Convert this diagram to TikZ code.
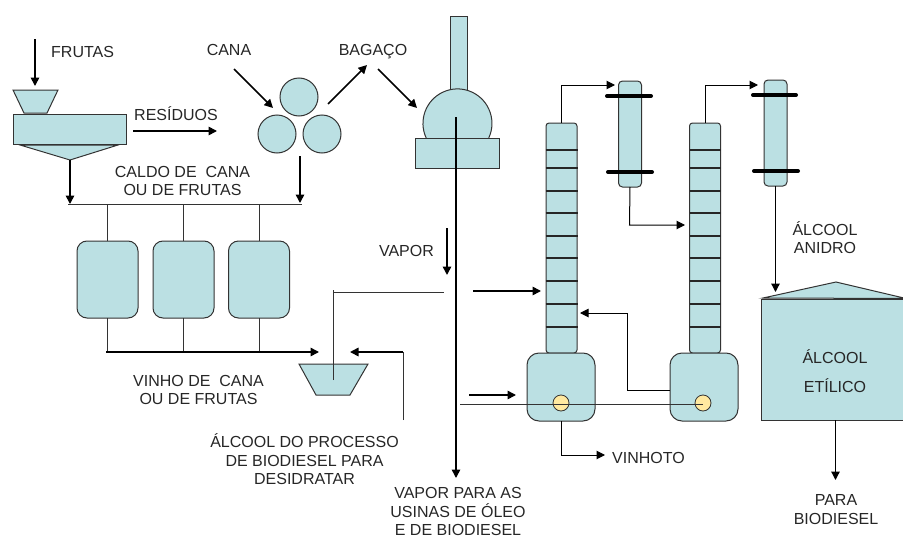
\documentclass[tikz,border=0pt]{standalone}
\usepackage{fontspec}
\setmainfont{Liberation Sans}
\usetikzlibrary{arrows.meta}
\definecolor{fillblue}{HTML}{BBE0E3}
\definecolor{fillyellow}{HTML}{FFE9A0}
\definecolor{inkgray}{HTML}{333333}
\tikzset{
  x=1pt,y=-1pt,
  vessel/.style={draw=inkgray,fill=fillblue,line width=1pt,inner sep=0pt,outer sep=0pt},
  box/.style={vessel,rectangle},
  tank/.style={vessel,rectangle,rounded corners=10pt,minimum width=61pt,minimum height=77pt},
  boiler/.style={vessel,rectangle,rounded corners=12pt,minimum width=68pt,minimum height=68pt},
  column/.style={vessel,rectangle,rounded corners=3pt,minimum width=31pt,minimum height=230pt},
  condenser/.style={vessel,rectangle,rounded corners=4pt,minimum width=23pt,minimum height=106pt},
  roller/.style={vessel,circle,minimum size=38pt},
  valve/.style={draw=inkgray,fill=fillyellow,line width=0.8pt,circle,inner sep=0pt,outer sep=0pt,minimum size=16pt},
  label/.style={font=\fontsize{16}{18.5}\selectfont,text=black!85,align=center,inner sep=0pt},
  flow/.style={draw=black,line width=1.6pt,-{Triangle[length=8.5pt,width=8.5pt]}},
  thinflow/.style={draw=black,line width=1pt,-{Triangle[length=8.5pt,width=8.5pt]}},
  pipe/.style={draw=black!80,line width=0.9pt},
  tray/.style={draw=black!85,line width=1.2pt},
  bar/.style={draw=black,line width=4pt,line cap=round},
}
\begin{document}
\begin{tikzpicture}
\useasboundingbox (0,0) rectangle (903,538);

% crusher on the left
\draw[vessel] (13,90) -- (58,90) -- (47,113) -- (24,113) -- cycle;
\draw[vessel] (20,145) -- (118,145) -- (70,160) -- cycle;
\node[box,minimum width=113pt,minimum height=30pt] (crusher) at (69.5,129) {};
\coordinate (funnelTip) at (70,160);

% rollers
\node[roller] (rollTop) at (299,97) {};
\node[roller] (rollLeft) at (277,134) {};
\node[roller] (rollRight) at (322,134) {};

% boiler with chimney
\node[box,minimum width=17pt,minimum height=76pt] (chimney) at (458.5,54) {};
\draw[vessel] (426.2,138) arc[start angle=155,end angle=385,radius=34.5];
\node[box,minimum width=84pt,minimum height=30pt] (furnace) at (457,153) {};

% fermentation tanks
\node[tank] (tankA) at (107.5,279.5) {};
\node[tank] (tankB) at (183.5,279.5) {};
\node[tank] (tankC) at (259,279.5) {};

% small hopper
\draw[vessel] (299,364) -- (368,364) -- (350,395) -- (316,395) -- cycle;

% columns
\node[column] (colA) at (561.5,238) {};
\node[column] (colB) at (705,238) {};
\foreach \yy in {150,168,191,213,236,258,281,304,327}{
  \draw[tray] (545.5,\yy) -- (577.5,\yy);
  \draw[tray] (689.5,\yy) -- (720.5,\yy);
}
\node[boiler] (boilA) at (561,387) {};
\node[boiler] (boilB) at (704,387) {};

% condensers
\node[condenser] (condA) at (630,134) {};
\node[condenser] (condB) at (775.5,133) {};
\draw[bar] (607,96) -- (651,96);
\draw[bar] (608,172) -- (652,172);
\draw[bar] (753,95) -- (796,95);
\draw[bar] (754,171) -- (798,171);

% storage tank
\draw[vessel] (763,298) -- (836,282) -- (906,298.5) -- cycle;
\node[box,minimum width=149pt,minimum height=121pt] (store) at (835.5,359.5) {};

% free ends
\coordinate (fruIn) at (35,39);
\coordinate (fruOut) at (35,86);
\coordinate (resA) at (133,131);
\coordinate (resB) at (217,131);
\coordinate (canaA) at (234,69);
\coordinate (canaB) at (273,108);
\coordinate (bagA) at (328,104);
\coordinate (bagB) at (367,65);
\coordinate (bagC) at (378,69);
\coordinate (bagD) at (417,108);
\coordinate (cdA) at (300,156);
\coordinate (cdB) at (300,203);
\coordinate (cfB) at (70,204);
\coordinate (hdrL) at (68,204);
\coordinate (hdrR) at (302,204);
\coordinate (vinStart) at (106,352);
\coordinate (vinEnd) at (319,352);
\coordinate (retStart) at (403,420);
\coordinate (retCorner) at (403,352);
\coordinate (retEnd) at (350,352);
\coordinate (stemBot) at (333,380);
\coordinate (stemTop) at (333,290);
\coordinate (stemEnd) at (444,292);
\coordinate (vapA) at (447,228);
\coordinate (vapB) at (447,275);
\coordinate (mainTop) at (456,117);
\coordinate (mainBot) at (456,478);
\coordinate (vapC) at (473,291);
\coordinate (vapD) at (541,291);
\coordinate (vapE) at (469,395);
\coordinate (vapF) at (516,395);
\coordinate (linkStart) at (460,404);

% valves
\node[valve] (valA) at (561,403) {};
\node[valve] (valB) at (703,403) {};

% connectors
\draw[flow] (fruIn) -- (fruOut);
\draw[flow] (resA) -- (resB);
\draw[flow] (canaA) -- (canaB);
\draw[flow] (bagA) -- (bagB);
\draw[flow] (bagC) -- (bagD);
\draw[flow] (cdA) -- (cdB);
\draw[flow] (funnelTip) -- (cfB);
\draw[pipe] (hdrL) -- (hdrR);
\draw[pipe] (tankA.north) -- (tankA.north |- hdrL);
\draw[pipe] (tankB.north) -- (tankB.north |- hdrL);
\draw[pipe] (tankC.north) -- (tankC.north |- hdrL);
\draw[pipe] (tankA.south) -- (tankA.south |- vinStart);
\draw[pipe] (tankB.south) -- (tankB.south |- vinStart);
\draw[pipe] (tankC.south) -- (tankC.south |- vinStart);
\draw[flow] (vinStart) -- (vinEnd);
\draw[pipe] (retStart) -- (retCorner);
\draw[flow] (retCorner) -- (retEnd);
\draw[pipe] (stemBot) -- (stemTop);
\draw[pipe] (stemTop |- stemEnd) -- (stemEnd);
\draw[flow] (vapA) -- (vapB);
\draw[flow] (mainTop) -- (mainBot);
\draw[flow] (vapC) -- (vapD);
\draw[flow] (vapE) -- (vapF);
\draw[pipe] (linkStart) -- (valB.center |- linkStart);
\draw[thinflow] (colA.north) -- (561.5,85) -- (615,85);
\draw[thinflow] (colB.north) -- (705,85) -- (758,85);
\draw[thinflow] (condA.south) -- (629.5,225) -- (685,225);
\draw[flow,line width=1.3pt] (condB.south) -- (775.5,292);
\draw[thinflow] (boilB.west |- 0,390) -- (627,390) -- (627,313) -- (580,313);
\draw[thinflow] (boilA.south) -- (561,455) -- (605,455);
\draw[flow,line width=1.3pt] (store.south) -- (835.5,480);

% labels
\node[label,anchor=west] (tFrutas) at (51,52) {FRUTAS};
\node[label,anchor=west] (tResiduos) at (134,114) {RESÍDUOS};
\node[label] (tCana) at (229,50) {CANA};
\node[label] (tBagaco) at (373,52) {BAGAÇO};
\node[label] (tCaldo) at (182.5,181) {CALDO DE \ CANA\\OU DE FRUTAS};
\node[label] (tVapor) at (406.5,251) {VAPOR};
\node[label] (tVinho) at (198.5,390) {VINHO DE \ CANA\\OU DE FRUTAS};
\node[label] (tAlcProc) at (304.5,459.5) {ÁLCOOL DO PROCESSO\\DE BIODIESEL PARA\\DESIDRATAR};
\node[label] (tVaporPara) at (458,511.5) {VAPOR PARA AS\\USINAS DE ÓLEO\\E DE BIODIESEL};
\node[label,anchor=west] (tVinhoto) at (612,458) {VINHOTO};
\node[label] (tAnidro) at (825,237.5) {ÁLCOOL\\ANIDRO};
\node[label] (tAlc) at (835,357) {ÁLCOOL};
\node[label] (tEtil) at (835,386) {ETÍLICO};
\node[label] (tPara) at (836,509.5) {PARA\\BIODIESEL};
\end{tikzpicture}
\end{document}
